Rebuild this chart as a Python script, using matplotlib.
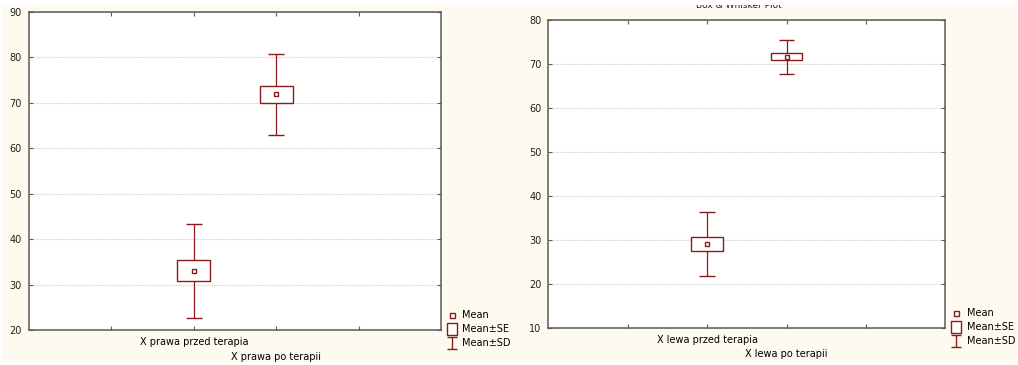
import numpy as np
import matplotlib
matplotlib.use('Agg')
import matplotlib.pyplot as plt
from matplotlib.patches import Rectangle
from matplotlib.path import Path

# prawa strona: srednia, blad standardowy, odchylenie standardowe
labels_prawa = ['X prawa przed terapia', 'X prawa po terapii']
mean_prawa = [33.0, 71.85]
se_prawa = [2.3, 1.95]
sd_prawa = [10.3, 9.0]

# lewa strona
labels_lewa = ['X lewa przed terapia', 'X lewa po terapii']
mean_lewa = [29.05, 71.6]
se_lewa = [1.6, 0.87]
sd_lewa = [7.3, 3.87]

pos = np.array([2, 3])

RED = '#8b1a1a'
CREAM = '#fffaf0'
FRAME = '#5a5a5a'

plt.rcParams['font.family'] = 'DejaVu Sans'
plt.rcParams['font.size'] = 7

# markery do legendy
se_marker = [(-0.42, -0.5), (0.42, -0.5), (0.42, 0.5), (-0.42, 0.5), (-0.42, -0.5)]
sd_marker = Path([(-0.42, 0.5), (0.42, 0.5), (0, 0.5), (0, -0.5), (-0.42, -0.5), (0.42, -0.5)],
                 [Path.MOVETO, Path.LINETO, Path.MOVETO, Path.LINETO, Path.MOVETO, Path.LINETO])


def box_whisker(ax, means, ses, sds):
    m = np.array(means)
    se = np.array(ses)
    sd = np.array(sds)
    ax.vlines(pos, m - sd, m + sd, color=RED, lw=0.9, zorder=2)
    ax.hlines(m - sd, pos - 0.1, pos + 0.1, color=RED, lw=1.0, zorder=2)
    ax.hlines(m + sd, pos - 0.1, pos + 0.1, color=RED, lw=1.0, zorder=2)
    for x, lo, h in zip(pos, m - se, 2 * se):
        ax.add_patch(Rectangle((x - 0.2, lo), 0.4, h, facecolor='white',
                               edgecolor=RED, lw=1.0, zorder=3))
    ax.plot(pos, m, 's', ms=3.5, mfc='white', mec=RED, mew=1.0, ls='none', zorder=4)


def style(ax, ylim):
    ax.set_xlim(0, 5)
    ax.set_ylim(*ylim)
    ax.set_yticks(np.arange(ylim[0], ylim[1] + 1, 10))
    ax.set_xticks([1, 2, 3, 4])
    ax.set_xticklabels([])
    ax.yaxis.grid(True, linestyle=(0, (1, 1)), color='#cfcfcf', lw=0.8)
    ax.set_axisbelow(True)
    for s in ax.spines.values():
        s.set_color(FRAME)
        s.set_linewidth(1.1)
    ax.tick_params(direction='in', length=3, width=0.8, color=FRAME,
                   top=True, right=True, labelsize=7, labelcolor='#202020', pad=5)


def legend(ax, xm, xt, ys):
    kw = dict(transform=ax.transAxes, clip_on=False, ls='none')
    ax.plot([xm], [ys[0]], 's', ms=3.6, mfc='white', mec=RED, mew=1.0, **kw)
    ax.plot([xm], [ys[1]], marker=se_marker, ms=8.6, mfc='white', mec=RED, mew=1.0, **kw)
    ax.plot([xm], [ys[2]], marker=sd_marker, ms=8.2, mfc='none', mec=RED, mew=1.0, **kw)
    for y, t in zip(ys, ['Mean', 'Mean±SE', 'Mean±SD']):
        ax.text(xt, y, t, transform=ax.transAxes, va='center', ha='left', fontsize=7)


def cat_labels(ax, labels, ys):
    tr = ax.get_xaxis_transform()
    for x, t, y in zip(pos, labels, ys):
        ax.text(x, y, t, transform=tr, ha='center', va='center', fontsize=7, clip_on=False)


fig = plt.figure(figsize=(10.18, 3.65), dpi=100, facecolor='white')
W, H = 1018, 365
fig.add_artist(Rectangle((3 / W, 3 / H), 1013 / W, 357 / H, transform=fig.transFigure,
                         facecolor=CREAM, edgecolor='none', zorder=-10))

ax1 = fig.add_axes([29 / W, 35 / H, 412 / W, 318 / H])
style(ax1, (20, 90))
box_whisker(ax1, mean_prawa, se_prawa, sd_prawa)
legend(ax1, 1.026, 1.05, [0.047, 0.003, -0.041])
cat_labels(ax1, labels_prawa, [-0.038, -0.085])

ax2 = fig.add_axes([548.3 / W, 37.3 / H, 397 / W, 308 / H])
style(ax2, (10, 80))
box_whisker(ax2, mean_lewa, se_lewa, sd_lewa)
legend(ax2, 1.027, 1.055, [0.049, 0.002, -0.043])
cat_labels(ax2, labels_lewa, [-0.04, -0.085])

# tytul wykresu, przyciety od gory
fig.text(739 / W, 1 - 8.3 / H, 'Box & Whisker Plot', ha='center', va='baseline',
         fontsize=6.5, color='#202020', zorder=5)
fig.add_artist(Rectangle((0, 1 - 5 / H), 1, 5 / H, transform=fig.transFigure,
                         facecolor='white', edgecolor='none', zorder=10))

fig.savefig('out.png', dpi=100, facecolor='white')
